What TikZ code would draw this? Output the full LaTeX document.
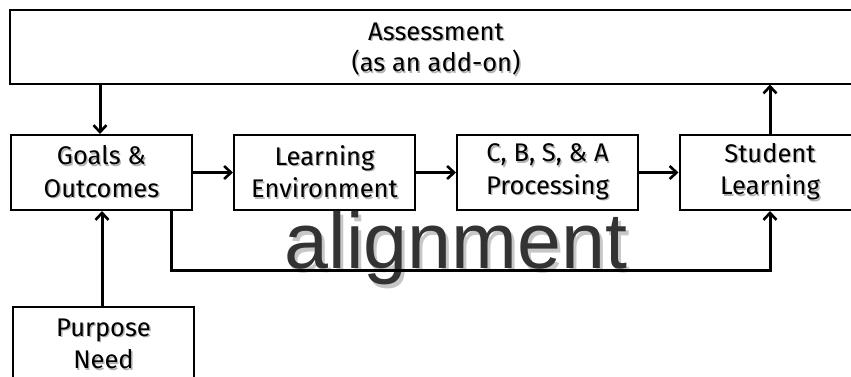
\documentclass[tikz,border=0pt]{standalone}
\usepackage{fontspec}
\setmainfont{Fira Sans}
\newfontfamily\alignfont{Liberation Sans}
\usetikzlibrary{arrows.meta}
\newcommand\shd[1]{\leavevmode\rlap{\kern1.4pt\raisebox{-1.4pt}{\textcolor{black!30}{#1}}}#1}
\newcommand\bigshd[1]{\leavevmode\rlap{\kern3pt\raisebox{-4pt}{\textcolor{black!22}{#1}}}#1}
\tikzset{
  box/.style={draw=black, line width=2pt, fill=white, inner sep=0pt, align=center,
    font=\fontsize{25.5}{32.5}\selectfont},
  boxtext/.style={inner sep=0pt, align=center, font=\fontsize{25.5}{31.5}\selectfont},
  conn/.style={line width=3pt, -{Straight Barb[length=7pt,width=13pt,line width=2.6pt]}},
}
\begin{document}
\begin{tikzpicture}[x=1pt,y=-1pt]
\useasboundingbox (0,0) rectangle (851,376);
\node[box, minimum width=853pt, minimum height=74pt] (assess) at (436,46.5) {};
\node[boxtext] (assesstext) at (436,50) {\shd{Assessment}\\\shd{(as an add-on)}};
\node[box, minimum width=181pt, minimum height=75pt] (goals) at (101.5,172.5)
  {\shd{Goals \&}\\\shd{Outcomes}};
\node[box, minimum width=181pt, minimum height=75pt] (env) at (324.5,172.5)
  {\shd{Learning}\\\shd{Environment}};
\node[box, minimum width=181pt, minimum height=75pt] (proc) at (547.5,172.5)
  {\shd{C, B, S, \& A}\\\shd{Processing}};
\node[box, minimum width=181pt, minimum height=75pt] (stud) at (770,172.5)
  {\shd{Student}\\\shd{Learning}};
\node[box, minimum width=181pt, minimum height=75pt, anchor=north] (purp) at (103.5,306)
  {\shd{Purpose}\\\shd{Need}};
% alignment label
\node[anchor=base, inner sep=0pt, text=black!80, font=\alignfont\fontsize{79}{79}\selectfont] (altext) at (456,268) {\bigshd{alignment}};
% connectors
\draw[conn] (assess.south -| 100,0) -- (goals.north -| 100,0);
\draw[conn] (stud.north) -- (assess.south -| stud.north);
\draw[conn] (goals.east) -- (env.west);
\draw[conn] (env.east) -- (proc.west);
\draw[conn] (proc.east) -- (stud.west);
\draw[conn] (purp.north -| 102,0) -- (goals.south -| 102,0);
\coordinate (c1) at (171,270);
\draw[conn] (goals.south -| c1) -- (c1) -- (c1 -| stud.south) -- (stud.south);
\end{tikzpicture}
\end{document}
